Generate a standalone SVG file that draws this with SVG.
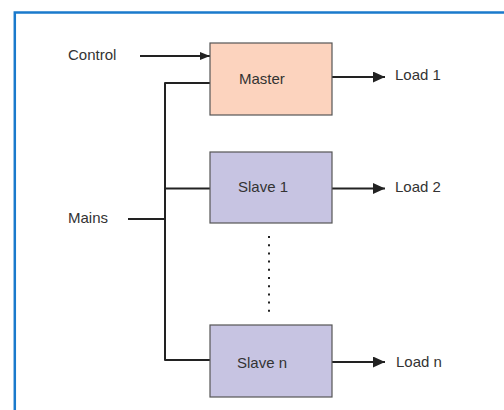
<svg xmlns="http://www.w3.org/2000/svg" width="504" height="410" viewBox="0 0 504 410">
<style>
text{font-family:"Liberation Sans",Arial,sans-serif;font-size:15px;fill:#333}
.box{stroke:#555;stroke-width:1.2}
.master{fill:#fcd3be}
.slave{fill:#c7c4e2}
.wire{fill:none;stroke:#222;stroke-width:2;stroke-linejoin:round}
.dots{fill:none;stroke:#222;stroke-width:2;stroke-dasharray:2 6.2}
</style>
<defs>
<marker id="ah" viewBox="0 0 12 11" refX="12" refY="5.5" markerWidth="12" markerHeight="11" markerUnits="userSpaceOnUse" orient="auto">
<path d="M0,0 L12,5.5 L0,11 Z" fill="#222"/>
</marker>
<marker id="ahs" viewBox="0 0 10 8" refX="10" refY="4" markerWidth="10" markerHeight="8" markerUnits="userSpaceOnUse" orient="auto">
<path d="M0,0 L10,4 L0,8 Z" fill="#222"/>
</marker>
</defs>
<rect width="504" height="410" fill="#fff"/>
<path d="M14.8,410 V12.5 H504" fill="none" stroke="#1a7acc" stroke-width="2.5"/>
<g id="connectors">
<line class="wire" x1="140" y1="56" x2="210" y2="56" marker-end="url(#ahs)"/>
<path class="wire" d="M210,83 H165 V360 H210"/>
<line class="wire" x1="165" y1="188.5" x2="210" y2="188.5"/>
<line class="wire" x1="128" y1="219" x2="165" y2="219"/>
<line class="wire" x1="332" y1="77" x2="385" y2="77" marker-end="url(#ah)"/>
<line class="wire" x1="332" y1="188.5" x2="385" y2="188.5" marker-end="url(#ah)"/>
<line class="wire" x1="332" y1="362" x2="385" y2="362" marker-end="url(#ah)"/>
<line class="dots" x1="269" y1="236" x2="269" y2="313"/>
</g>
<g id="master">
<rect class="box master" x="210" y="43" width="122" height="72"/>
<text x="239" y="84">Master</text>
</g>
<g id="slave1">
<rect class="box slave" x="210" y="152" width="122" height="71"/>
<text x="238" y="191.5">Slave 1</text>
</g>
<g id="slaven">
<rect class="box slave" x="210" y="325" width="122" height="72"/>
<text x="237" y="368">Slave n</text>
</g>
<g id="labels">
<text x="68" y="60">Control</text>
<text x="68" y="223">Mains</text>
<text x="395" y="80">Load 1</text>
<text x="395" y="191.5">Load 2</text>
<text x="396" y="367">Load n</text>
</g>
</svg>
